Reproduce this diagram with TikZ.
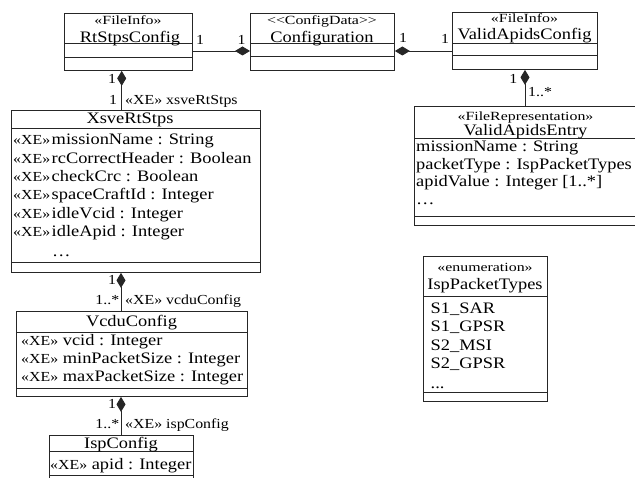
\documentclass[tikz,border=0pt]{standalone}
\usepackage{fontspec}
\setmainfont{Liberation Serif}[FakeStretch=1.15]
\newfontfamily\stfont{Liberation Serif}[FakeStretch=1.27]
\usetikzlibrary{arrows.meta}
\newcommand\xetag{{\fontsize{13.8}{15}\selectfont «XE»}}
\tikzset{
	cls/.style={draw=black!85,line width=0.9pt,anchor=north west,inner sep=0pt},
	sepline/.style={draw=black!85,line width=0.9pt},
	nm/.style={inner sep=0pt,anchor=base,font=\fontsize{16}{17}\selectfont},
	st/.style={inner sep=0pt,anchor=base,font=\stfont\fontsize{12.5}{13}\selectfont},
	attr/.style={inner sep=0pt,anchor=base west,font=\fontsize{16}{17}\selectfont},
	lbl/.style={inner sep=0pt,font=\fontsize{13.8}{15}\selectfont},
	comp/.style={draw=black!85,line width=0.9pt,-{Diamond[length=15pt,width=9pt]}},
}
\begin{document}
\begin{tikzpicture}[x=1pt,y=-1pt]
	\useasboundingbox (0,0) rectangle (635,478);
	% box with name and attribute compartments: name, x, y, w, h, sep1, sep2
	\def\umlcls#1#2#3#4#5#6#7{
		\node[cls,minimum width=#4pt,minimum height=#5pt] (#1) at (#2,#3) {};
		\draw[sepline] (#1.west |- 0,#6) -- (#1.east |- 0,#6);
		\draw[sepline] (#1.west |- 0,#7) -- (#1.east |- 0,#7);
	}
	\umlcls{rt}{64}{13}{128}{57}{43}{57}
	\umlcls{cfg}{250}{13}{144}{57}{43}{56}
	\umlcls{vac}{452}{12}{145}{57}{43}{55}
	\umlcls{xsve}{11}{110}{249}{162}{128}{262}
	\umlcls{vcdu}{16}{311}{231}{85}{332}{388}
	\umlcls{isp}{49}{435}{144}{60}{451}{475}
	\umlcls{vae}{414}{106}{250}{119}{138}{216}
	\umlcls{ipt}{423}{256}{124}{145}{296}{392}
	% names
	\node[st] (rtS) at (128,25) {«FileInfo»};
	\node[nm] (rtN) at (130,42.3) {RtStpsConfig};
	\node[st] (cfgS) at (322,25) {\textless\textless ConfigData\textgreater\textgreater};
	\node[nm] (cfgN) at (322,42.3) {Configuration};
	\node[st] (vacS) at (524.5,22.3) {«FileInfo»};
	\node[nm] (vacN) at (524.5,40) {ValidApidsConfig};
	\node[nm] (xsveN) at (130,123.3) {XsveRtStps};
	\node[nm] (vcduN) at (131.5,326.7) {VcduConfig};
	\node[nm] (ispN) at (121,448.3) {IspConfig};
	\node[st] (vaeS) at (525.5,120.7) {«FileRepresentation»};
	\node[nm] (vaeN) at (525.5,136) {ValidApidsEntry};
	\node[st] (iptS) at (485,271.7) {«enumeration»};
	\node[nm] (iptN) at (485,290) {IspPacketTypes};
	% attributes
	\foreach \t [count=\i] in {missionName : String,rcCorrectHeader : Boolean,
		checkCrc : Boolean,spaceCraftId : Integer,idleVcid : Integer,idleApid : Integer}
		\node[attr] (xsveA\i) at (13,{145+18.3*(\i-1)}) {\xetag\hspace{1.5pt}\t};
	\node[attr] (xsveD) at (52,256.7) {…};
	\foreach \t [count=\i] in {vcid : Integer,minPacketSize : Integer,maxPacketSize : Integer}
		\node[attr] (vcduA\i) at (21,{345.7+18*(\i-1)}) {\xetag{} \t};
	\node[attr] (ispA) at (50,469.3) {\xetag{} apid : Integer};
	\foreach \t [count=\i] in {missionName : String,packetType : IspPacketTypes,
		apidValue : Integer [1{.}{.}*]}
		\node[attr] (vaeA\i) at (416,{151.7+17.6*(\i-1)}) {\t};
	\node[attr] (vaeD) at (416,205) {…};
	\foreach \t [count=\i] in {S1\_SAR,S1\_GPSR,S2\_MSI,S2\_GPSR}
		\node[attr] (iptA\i) at (430.5,{313.3+18.4*(\i-1)}) {\t};
	\node[attr] (iptD) at (430.5,388.3) {.{}.{}.};
	% compositions
	\draw[comp] (rt.east |- 0,51) -- (cfg.west |- 0,51);
	\draw[comp] (vac.west |- 0,51) -- (cfg.east |- 0,51);
	\draw[comp] (xsve.north -| 121.7,0) -- (rt.south -| 121.7,0);
	\draw[comp] (vcdu.north -| 121,0) -- (xsve.south -| 121,0);
	\draw[comp] (isp.north -| 121,0) -- (vcdu.south -| 121,0);
	\draw[comp] (vae.north -| 525,0) -- (vac.south -| 525,0);
	% multiplicities and role names
	\node[lbl,anchor=base] (m1) at (200,45) {1};
	\node[lbl,anchor=base] (m2) at (241.7,45) {1};
	\node[lbl,anchor=base] (m3) at (403,43) {1};
	\node[lbl,anchor=base] (m4) at (445,44) {1};
	\node[lbl,anchor=base] (m5) at (112,83.3) {1};
	\node[lbl,anchor=base] (m6) at (113,105) {1};
	\node[lbl,anchor=base west] (r1) at (125,105) {«XE» xsveRtStps};
	\node[lbl,anchor=base] (m7) at (112,285) {1};
	\node[lbl,anchor=base east] (m8) at (119.5,304.3) {1..*};
	\node[lbl,anchor=base west] (r2) at (125,304.3) {«XE» vcduConfig};
	\node[lbl,anchor=base] (m9) at (112,408.3) {1};
	\node[lbl,anchor=base east] (m10) at (119.5,428.3) {1..*};
	\node[lbl,anchor=base west] (r3) at (125,428.3) {«XE» ispConfig};
	\node[lbl,anchor=base] (m11) at (513.3,83.3) {1};
	\node[lbl,anchor=base west] (m12) at (528,96.7) {1..*};
\end{tikzpicture}
\end{document}
